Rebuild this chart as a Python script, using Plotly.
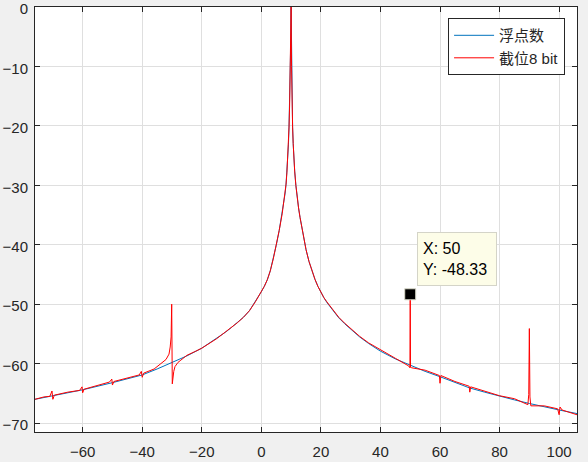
"""Spectrum comparison: float vs 8-bit truncation, MATLAB-like look."""
import plotly.graph_objects as go

BLUE = "#0072BD"
RED = "#FF0000"
AXIS = "#262626"
GRID = "#dfdfdf"
FONT = "Liberation Sans, Arial, Noto Sans CJK SC"

# float spectrum (dB)
float_x = [-76, -70, -60, -50, -40, -35, -30, -25, -20, -15, -12, -10, -8, -6, -4, -2, -1, 0,
           1, 2, 3, 4, 5, 6, 7, 7.5, 8, 8.3, 8.6, 8.9, 9.1, 9.3, 9.5, 9.7, 9.85, 10,
           10.15, 10.3, 10.5, 10.7, 10.9, 11.2, 11.6, 12, 12.5, 13, 14, 15, 16, 17, 18,
           19, 20, 21, 22, 24, 26, 28, 30, 33, 36, 40, 45, 50, 55, 60, 65, 70, 75, 80, 85, 90,
           95, 100, 106]
float_y = [-66.0, -65.4, -64.4, -63.2, -61.9, -60.9, -59.8, -58.7, -57.4, -55.8, -54.7, -53.9,
           -53.1, -52.2, -51.1, -49.6, -48.8, -47.9, -47.0, -45.9, -44.4, -42.4, -40.1, -37.6,
           -34.8, -33.2, -31.3, -29.8, -27.8, -25.3, -23.2, -20.2, -16.5, -11.5, -6.5, 0.0,
           -10.0, -16.5, -20.2, -23.0, -25.3, -27.6, -30.0, -31.9, -33.8, -35.4, -38.3, -40.8,
           -42.8, -44.4, -45.8, -47.0, -48.0, -48.9, -49.7, -51.1, -52.3, -53.3, -54.2,
           -55.5, -56.6, -57.9, -59.2, -60.3, -61.3, -62.2, -63.2, -64.1, -64.8, -65.5, -66.1,
           -66.7, -67.3, -67.8, -68.4]

# 8-bit truncated spectrum (dB): spikes and small glitches, otherwise on top of the float curve
trunc_x = [-76, -73, -71, -70.3, -70, -69.5, -65, -61, -60.2, -60, -59.5, -55, -51, -50.2, -50,
           -49.5, -45, -41, -40.3, -40, -39.5, -36, -34, -32, -31, -30.6, -30.3, -30.1, -29.9,
           -29.7, -29.4, -29, -28, -27, -25, -22, -20, -15, -12, -10, -8, -6, -4, -2, -1, 0,
           1, 2, 3, 4, 5, 6, 7, 7.5, 8, 8.3, 8.6, 8.9, 9.1, 9.3, 9.5, 9.7, 9.85, 10,
           10.15, 10.3, 10.5, 10.7, 10.9, 11.2, 11.6, 12, 12.5, 13, 14, 15, 16, 17, 18,
           19, 20, 21, 22, 24, 26, 28, 30, 33, 36, 40, 45, 49.5, 49.9, 50, 50.1, 50.5, 55, 59.8,
           60, 60.3, 65, 69.8, 70, 70.3, 75, 80, 85, 89.5, 89.8, 90, 90.2, 90.5, 95, 99.5, 100,
           100.3, 101, 106]
trunc_y = [-66.0, -65.6, -65.5, -64.6, -66.0, -65.3, -64.8, -64.5, -63.9, -64.9, -64.3, -63.7,
           -63.1, -62.6, -63.6, -63.0, -62.4, -61.9, -61.3, -62.3, -61.6, -60.9, -60.1, -59.3,
           -58.4, -57.2, -55.5, -50.0, -63.4, -62.3, -61.3, -60.5, -59.8, -59.4, -58.6, -57.9,
           -57.4, -55.8, -54.7, -53.9, -53.1, -52.2, -51.1, -49.6, -48.8, -47.9, -47.0, -45.9,
           -44.4, -42.4, -40.1, -37.6, -34.8, -33.2, -31.3, -29.8, -27.8, -25.3, -23.2, -20.2,
           -16.5, -11.5, -6.5, 0.0, -10.0, -16.5, -20.2, -23.0, -25.3, -27.6, -30.0, -31.9,
           -33.8, -35.4, -38.3, -40.8, -42.8, -44.4, -45.8, -47.0, -48.0, -48.9, -49.6,
           -51.0, -52.2, -53.2, -54.1, -55.4, -56.5, -57.7, -59.1, -60.4, -60.7, -48.33, -60.6,
           -60.7, -61.1, -62.0, -63.3, -62.0, -63.0, -63.8, -64.8, -63.9, -64.6, -65.4, -65.9,
           -66.9, -65.2, -54.1, -65.6, -67.1, -67.1, -67.6, -68.6, -67.3, -67.8, -68.6]

tip_x = [50]
tip_y = [-48.33]

x_ticks = [-60, -40, -20, 0, 20, 40, 60, 80, 100]
y_ticks = [-70, -60, -50, -40, -30, -20, -10, 0]

fig = go.Figure()

fig.add_trace(go.Scatter(
    x=float_x, y=float_y, mode='lines', name='浮点数',
    line=dict(color=BLUE, width=1),
))
fig.add_trace(go.Scatter(
    x=trunc_x, y=trunc_y, mode='lines', name='截位8 bit',
    line=dict(color=RED, width=1),
))
fig.add_trace(go.Scatter(
    x=tip_x, y=tip_y, mode='markers', showlegend=False,
    marker=dict(symbol='square', size=11, color='black', line=dict(color='#d8d8c8', width=1)),
))

fig.add_annotation(
    x=tip_x[0], y=tip_y[0], text=f'X: {tip_x[0]}<br>Y: {tip_y[0]:.2f}',
    showarrow=False, xanchor='left', yanchor='bottom', xshift=7, yshift=8,
    align='left', width=68, height=42, borderpad=5,
    bgcolor='#fdfde8', bordercolor='#d4d4c8', borderwidth=1,
    font=dict(family=FONT, size=16, color='black'),
)

axis_common = dict(
    showline=True, linecolor=AXIS, linewidth=1, mirror='ticks',
    ticks='inside', ticklen=5, tickcolor=AXIS,
    showgrid=True, gridcolor=GRID, gridwidth=1, zeroline=False,
    tickfont=dict(family=FONT, size=15, color=AXIS),
    automargin=False, ticklabeloverflow='allow',
)

fig.update_layout(
    width=588, height=462,
    margin=dict(l=35, r=11, t=7, b=30),
    paper_bgcolor='#f0f0f0', plot_bgcolor='white',
    xaxis=dict(range=[-76, 106], tickvals=x_ticks, ticklabelstandoff=6, **axis_common),
    yaxis=dict(range=[-71.5, 0], tickvals=y_ticks, ticklabelstandoff=3, ticklabelshift=2,
               **axis_common),
    legend=dict(
        x=0.978, y=0.974, xanchor='right', yanchor='top', itemwidth=40,
        bgcolor='white', bordercolor=AXIS, borderwidth=1,
        font=dict(family=FONT, size=15, color=AXIS),
    ),
)

# drop the default page margin so the figure sits at the window's top-left corner
fig.write_html("out.html", config={'displayModeBar': False},
               post_script="document.body.style.margin = '0';")
